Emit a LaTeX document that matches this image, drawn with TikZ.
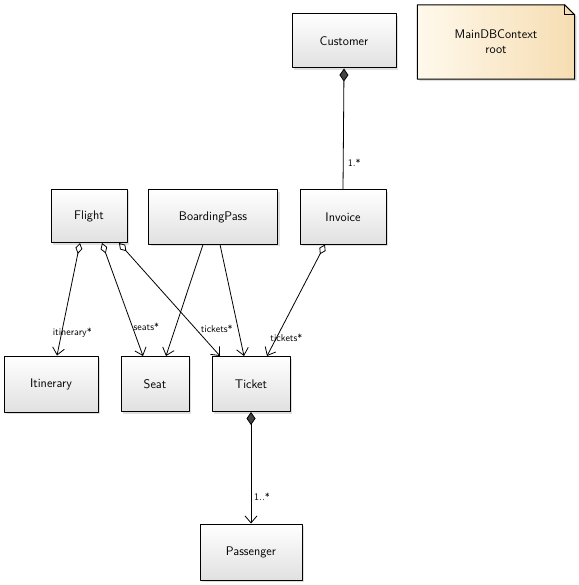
\documentclass[tikz,border=0pt]{standalone}
\usetikzlibrary{arrows.meta,shadows}

\definecolor{notelight}{HTML}{FFF9EC}
\definecolor{notedark}{HTML}{F6DDB2}
\definecolor{diamondfill}{HTML}{444444}

\tikzset{
  classbox/.style={draw=black,line width=1pt,top color=white,bottom color=black!12,
    drop shadow={shadow xshift=2pt,shadow yshift=-2pt,fill=black!25},
    font=\sffamily\fontsize{12.5}{15}\selectfont,inner sep=2pt},
  assoc/.style={line width=0.8pt},
  lbl/.style={font=\sffamily\fontsize{10}{12}\selectfont,inner sep=1pt,anchor=center},
  aggr/.style={assoc,{Diamond[open,length=11pt,width=7pt]}-{Straight Barb[length=7pt,width=12pt]}},
  comp/.style={assoc,{Diamond[fill=diamondfill,length=13pt,width=9pt]}-{Straight Barb[length=7pt,width=12pt]}},
  plain/.style={assoc,-{Straight Barb[length=7pt,width=12pt]}}
}

\begin{document}
\begin{tikzpicture}[x=1pt,y=-1pt,line cap=round,line join=round]
  \useasboundingbox (0,0) rectangle (578,585);
  % classes
  \node[classbox,minimum width=104pt,minimum height=54pt] (customer) at (344,41) {Customer};
  \node[classbox,minimum width=76pt,minimum height=53pt] (flight) at (89,216) {Flight};
  \node[classbox,minimum width=129pt,minimum height=54pt] (boarding) at (213,217) {BoardingPass};
  \node[classbox,minimum width=86pt,minimum height=54pt] (invoice) at (343,217) {Invoice};
  \node[classbox,minimum width=94pt,minimum height=56pt] (itinerary) at (51,384) {Itinerary};
  \node[classbox,minimum width=68pt,minimum height=55pt] (seat) at (155,384) {Seat};
  \node[classbox,minimum width=78pt,minimum height=55pt] (ticket) at (251,384) {Ticket};
  \node[classbox,minimum width=102pt,minimum height=56pt] (passenger) at (251,552) {Passenger};
  % note
  \node[minimum width=157pt,minimum height=74pt] (ctx) at (496,42) {};
  \shade[left color=notelight,right color=notedark,draw=black,line width=1pt,
    drop shadow={shadow xshift=2pt,shadow yshift=-2pt,fill=black!25}]
    (ctx.north west) -- ([xshift=-10pt]ctx.north east) -- ([yshift=-10pt]ctx.north east)
    -- (ctx.south east) -- (ctx.south west) -- cycle;
  \draw[line width=0.7pt] ([xshift=-10pt]ctx.north east) -- ([xshift=-10pt,yshift=-10pt]ctx.north east)
    -- ([yshift=-10pt]ctx.north east);
  \node[font=\sffamily\fontsize{12.5}{15}\selectfont,align=center] (ctxtext) at (ctx) {MainDBContext\\root};
  % associations
  \draw[assoc,{Diamond[fill=diamondfill,length=13pt,width=9pt]}-] (customer.south) -- (invoice.north)
    node[lbl,pos=0.78,xshift=11pt] {1.*};
  \draw[comp] (ticket.south) -- (passenger.north) node[lbl,pos=0.76,xshift=11pt] {1..*};
  \draw[aggr] ([xshift=-9pt]flight.south) -- ([xshift=6pt]itinerary.north)
    node[lbl,pos=0.77,xshift=10pt,yshift=-3pt] {itinerary*};
  \draw[aggr] ([xshift=13pt]flight.south) -- ([xshift=-12pt]seat.north)
    node[lbl,pos=0.74,xshift=14pt] {seats*};
  \draw[aggr] ([xshift=30pt]flight.south) -- ([xshift=-31pt]ticket.north)
    node[lbl,pos=0.76,xshift=21pt] {tickets*};
  \draw[plain] ([xshift=-10pt]boarding.south) -- ([xshift=11pt]seat.north);
  \draw[plain] ([xshift=7pt]boarding.south) -- ([xshift=-7pt]ticket.north);
  \draw[aggr] ([xshift=-18pt]invoice.south) -- ([xshift=16pt]ticket.north)
    node[lbl,pos=0.82,xshift=9pt,yshift=-2pt] {tickets*};
\end{tikzpicture}
\end{document}
